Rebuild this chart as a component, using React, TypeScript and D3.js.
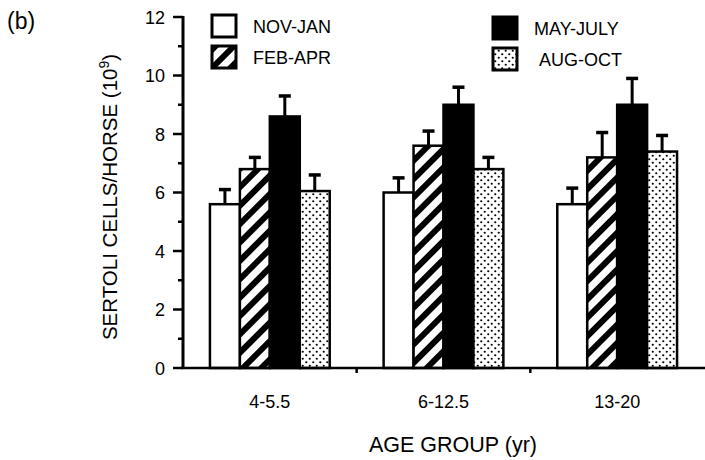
import React from 'react';
import * as d3 from 'd3';

const groups = ['4-5.5', '6-12.5', '13-20'];
const seasons = ['NOV-JAN', 'FEB-APR', 'MAY-JULY', 'AUG-OCT'];
// mean Sertoli cells per horse (10^9), one array per season, by age group
const novJan = [5.6, 6.0, 5.6];
const febApr = [6.8, 7.6, 7.2];
const mayJuly = [8.6, 9.0, 9.0];
const augOct = [6.05, 6.8, 7.4];
// top of the SE bar
const novJanErr = [6.1, 6.5, 6.15];
const febAprErr = [7.2, 8.1, 8.05];
const mayJulyErr = [9.3, 9.6, 9.9];
const augOctErr = [6.6, 7.2, 7.95];
const yTicks = [0, 2, 4, 6, 8, 10, 12];
const yMinor = [1, 3, 5, 7, 9, 11];

const means = [novJan, febApr, mayJuly, augOct];
const errs = [novJanErr, febAprErr, mayJulyErr, augOctErr];
const fills = ['#fff', 'url(#hatch)', '#000', 'url(#dots)'];
const font = 'Liberation Sans, Arial, sans-serif';

const App = () => {
  const width = 705;
  const height = 460;
  const y = d3.scaleLinear().domain([0, 12]).range([368, 17]);
  const x0 = d3.scaleBand().domain(groups).range([183, 704]);
  const x1 = d3.scaleBand().domain(seasons).range([0, x0.bandwidth()]).paddingOuter(0.9);

  const bars = [];
  groups.forEach((g, gi) => {
    seasons.forEach((s, si) => {
      const bx = x0(g) + x1(s);
      const bw = x1.bandwidth();
      const top = y(means[si][gi]);
      const etop = y(errs[si][gi]);
      const cx = bx + bw / 2;
      bars.push(
        <g key={g + s}>
          <line x1={cx} x2={cx} y1={top} y2={etop} stroke="#000" strokeWidth={3} />
          <line x1={cx - 6} x2={cx + 6} y1={etop} y2={etop} stroke="#000" strokeWidth={3.5} />
          <rect x={bx} y={top} width={bw} height={y(0) - top} fill={fills[si]} stroke="#000" strokeWidth={2.5} />
        </g>
      );
    });
  });

  // legend: two columns
  const legendPos = [
    { x: 212, y: 15 },
    { x: 212, y: 46 },
    { x: 493, y: 17 },
    { x: 493, y: 48 },
  ];

  return (
    <svg width={width} height={height} style={{ position: 'absolute', left: 0, top: 0, background: '#fff' }}>
      <defs>
        <pattern id="hatch" patternUnits="userSpaceOnUse" width={13} height={13} patternTransform="rotate(-45)">
          <rect width={13} height={13} fill="#fff" />
          <rect x={0} y={0} width={13} height={6} fill="#000" />
        </pattern>
        <pattern id="dots" patternUnits="userSpaceOnUse" width={7} height={7}>
          <rect width={7} height={7} fill="#fff" />
          <circle cx={1.75} cy={1.75} r={1.1} fill="#000" />
          <circle cx={5.25} cy={5.25} r={1.1} fill="#000" />
        </pattern>
      </defs>

      <text x={7} y={29} fontFamily={font} fontSize={23}>(b)</text>

      {bars}

      {/* y axis */}
      <line x1={183} x2={183} y1={y(12) - 1} y2={y(0) + 1} stroke="#000" strokeWidth={3} />
      {yTicks.map((t) => (
        <g key={t}>
          <line x1={173} x2={183} y1={y(t)} y2={y(t)} stroke="#000" strokeWidth={2.5} />
          <text x={165} y={y(t) + 6.5} textAnchor="end" fontFamily={font} fontSize={18}>{t}</text>
        </g>
      ))}
      {yMinor.map((t) => (
        <line key={t} x1={178} x2={183} y1={y(t)} y2={y(t)} stroke="#000" strokeWidth={2.5} />
      ))}

      {/* x axis */}
      <line x1={181} x2={705} y1={y(0)} y2={y(0)} stroke="#000" strokeWidth={2.5} />
      {groups.slice(1).map((g) => (
        <line key={g} x1={x0(g)} x2={x0(g)} y1={y(0)} y2={y(0) + 5} stroke="#000" strokeWidth={2.5} />
      ))}
      {groups.map((g) => (
        <text key={g} x={x0(g) + x0.bandwidth() / 2} y={408} textAnchor="middle" fontFamily={font} fontSize={18}>{g}</text>
      ))}

      <text x={453} y={452} textAnchor="middle" fontFamily={font} fontSize={21.5}>AGE GROUP (yr)</text>
      <text transform="translate(117,197) rotate(-90)" textAnchor="middle" fontFamily={font} fontSize={20.5}>
        SERTOLI CELLS/HORSE (10<tspan dy={-8} fontSize={14}>9</tspan><tspan dy={8}>)</tspan>
      </text>

      {seasons.map((s, i) => (
        <g key={s}>
          <rect x={legendPos[i].x} y={legendPos[i].y} width={24} height={22} fill={fills[i]} stroke="#000" strokeWidth={3} />
          <text x={legendPos[i].x + 41 + (i === 3 ? 5 : 0)} y={legendPos[i].y + 18} fontFamily={font} fontSize={18}>{s}</text>
        </g>
      ))}
    </svg>
  );
};

export default App;
